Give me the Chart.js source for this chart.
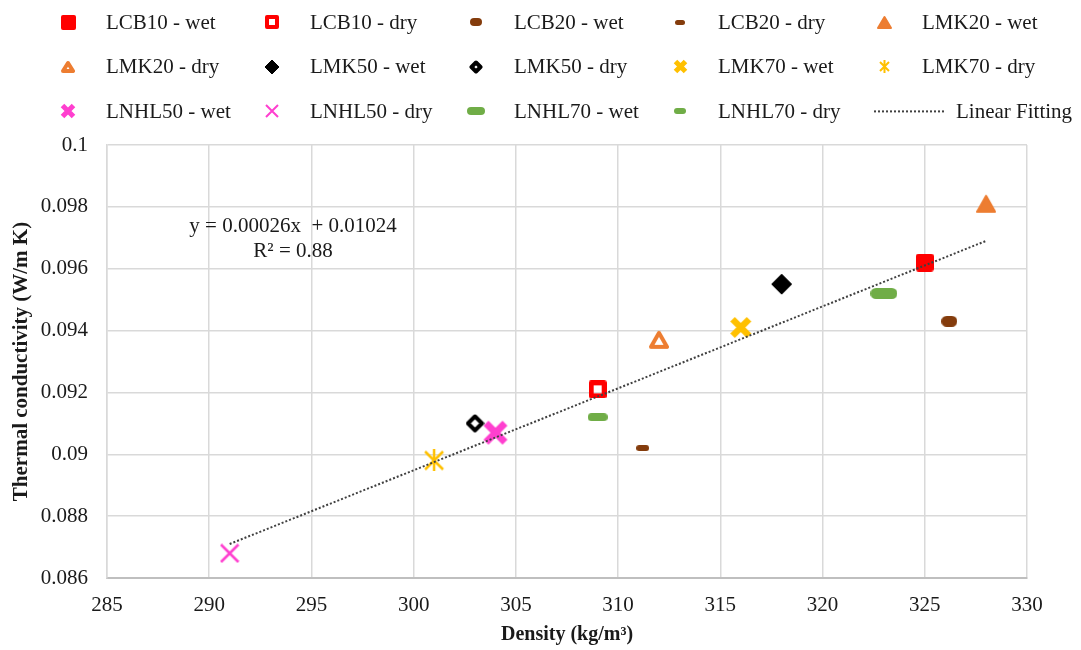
<!DOCTYPE html>
<html>
<head>
<meta charset="utf-8">
<script src="https://cdn.jsdelivr.net/npm/chart.js@4.4.0/dist/chart.umd.min.js"></script>
<style>
    html, body { margin: 0; padding: 0; background: #fff; }
    #wrap { width: 1081px; height: 650px; }
</style>
</head>
<body>
<div id="wrap"><canvas id="thermalChart" width="1081" height="650"></canvas></div>
<script>
// Dados
const seriesNames = ['LCB10 - wet', 'LCB10 - dry', 'LCB20 - wet', 'LCB20 - dry', 'LMK20 - wet',
    'LMK20 - dry', 'LMK50 - wet', 'LMK50 - dry', 'LMK70 - wet', 'LMK70 - dry',
    'LNHL50 - wet', 'LNHL50 - dry', 'LNHL70 - wet', 'LNHL70 - dry'];
const densityValues = [325, 309, 326.2, 311.2, 328, 312, 318, 303, 316, 301, 304, 291, 323, 309];
const conductivityValues = [0.0962, 0.0921, 0.0943, 0.0902, 0.0981, 0.0937, 0.0955, 0.0910,
    0.0941, 0.0898, 0.0907, 0.0868, 0.0952, 0.0912];
const fitLabel = 'Linear Fitting';
const fitDensity = [291, 328];
const fitConductivity = [0.0871, 0.0969];
const fitEquation = ['y = 0.00026x  + 0.01024', 'R² = 0.88'];
const equationAt = [294.1, 0.09735, 0.09657];
const xTickRange = [285, 330, 5];
const yTickRange = [0.086, 0.1, 0.002];

const RED = '#ff0000', BROWN = '#843c0c', ORANGE = '#ed7d31', BLACK = '#000000',
    GOLD = '#ffc000', PINK = '#ff3fcf', GREEN = '#70ad47';
const FONT = '"Liberation Serif", "Times New Roman", serif';
const TEXT = '#1a1a1a';

// Funções para desenhar os marcadores (estilo Excel)
function makeIcon(w, h, draw) {
    const c = document.createElement('canvas');
    c.width = w; c.height = h;
    const g = c.getContext('2d');
    draw(g, w, h);
    return c;
}

function pathRound(g, x, y, w, h, r) {
    g.beginPath();
    g.moveTo(x + r, y);
    g.arcTo(x + w, y, x + w, y + h, r);
    g.arcTo(x + w, y + h, x, y + h, r);
    g.arcTo(x, y + h, x, y, r);
    g.arcTo(x, y, x + w, y, r);
    g.closePath();
}

function filledBox(color, w, h, r) {
    return makeIcon(w, h, (g) => {
        g.fillStyle = color;
        pathRound(g, 0, 0, w, h, r);
        g.fill();
    });
}

function hollowBox(color, s, lw) {
    return makeIcon(s, s, (g) => {
        g.strokeStyle = color;
        g.lineWidth = lw;
        g.lineJoin = 'round';
        g.strokeRect(lw / 2, lw / 2, s - lw, s - lw);
    });
}

function triangle(color, s, filled) {
    return makeIcon(s, s, (g) => {
        const lw = filled ? 2 : 4;
        g.lineJoin = 'round';
        g.lineWidth = lw;
        g.strokeStyle = color;
        g.fillStyle = color;
        g.beginPath();
        g.moveTo(s / 2, lw / 2 + 1);
        g.lineTo(s - lw / 2, s - lw / 2 - 1);
        g.lineTo(lw / 2, s - lw / 2 - 1);
        g.closePath();
        if (filled) g.fill();
        g.stroke();
    });
}

function diamond(color, s, filled) {
    return makeIcon(s, s, (g) => {
        const lw = filled ? 1 : 4;
        const m = lw / 2 + 0.5;
        g.lineJoin = 'round';
        g.lineWidth = lw;
        g.strokeStyle = color;
        g.fillStyle = color;
        g.beginPath();
        g.moveTo(s / 2, m);
        g.lineTo(s - m, s / 2);
        g.lineTo(s / 2, s - m);
        g.lineTo(m, s / 2);
        g.closePath();
        if (filled) g.fill();
        g.stroke();
    });
}

function xMark(color, s, lw) {
    return makeIcon(s, s, (g) => {
        const m = lw / 2;
        g.strokeStyle = color;
        g.lineWidth = lw;
        g.beginPath();
        g.moveTo(m, m); g.lineTo(s - m, s - m);
        g.moveTo(s - m, m); g.lineTo(m, s - m);
        g.stroke();
    });
}

function asterisk(color, s, lw) {
    return makeIcon(s, s, (g) => {
        g.strokeStyle = color;
        g.lineWidth = lw;
        g.beginPath();
        g.moveTo(2, 2); g.lineTo(s - 2, s - 2);
        g.moveTo(s - 2, 2); g.lineTo(2, s - 2);
        g.moveTo(s / 2, 0); g.lineTo(s / 2, s);
        g.stroke();
    });
}

const markers = [
    filledBox(RED, 18, 18, 3),
    hollowBox(RED, 18, 5),
    filledBox(BROWN, 16, 11, 5.5),
    filledBox(BROWN, 13, 6, 3),
    triangle(ORANGE, 20, true),
    triangle(ORANGE, 20, false),
    diamond(BLACK, 22, true),
    diamond(BLACK, 19, false),
    xMark(GOLD, 23, 6.5),
    asterisk(GOLD, 22, 2.5),
    xMark(PINK, 26, 7),
    xMark(PINK, 20, 2.5),
    filledBox(GREEN, 27, 11, 5.5),
    filledBox(GREEN, 20, 8, 4)
];
const legendMarkers = [
    filledBox(RED, 15, 15, 2),
    hollowBox(RED, 14, 4),
    filledBox(BROWN, 12, 8, 4),
    filledBox(BROWN, 10, 5, 2.5),
    triangle(ORANGE, 15, true),
    triangle(ORANGE, 14, false),
    diamond(BLACK, 16, true),
    diamond(BLACK, 14, false),
    xMark(GOLD, 15, 5),
    asterisk(GOLD, 13, 2),
    xMark(PINK, 16, 5),
    xMark(PINK, 14, 2),
    filledBox(GREEN, 18, 8, 4),
    filledBox(GREEN, 12, 6, 3)
];

// Monta os datasets
const datasets = seriesNames.map((name, i) => ({
    label: name,
    data: [{ x: densityValues[i], y: conductivityValues[i] }],
    pointStyle: markers[i],
    pointRadius: 8,
    showLine: false,
    order: 1
}));
datasets.push({
    label: fitLabel,
    type: 'line',
    data: fitDensity.map((d, i) => ({ x: d, y: fitConductivity[i] })),
    borderColor: '#404040',
    borderWidth: 2,
    borderDash: [2, 2],
    pointRadius: 0,
    fill: false,
    order: -1
});

// Legenda em grade e equação da regressão
const overlayPlugin = {
    id: 'overlay',
    afterDraw(chart) {
        const g = chart.ctx;
        const xs = chart.scales.x, ys = chart.scales.y;
        g.save();
        g.font = '21px ' + FONT;
        g.fillStyle = TEXT;
        g.textAlign = 'center';
        g.textBaseline = 'middle';
        g.fillText(fitEquation[0], xs.getPixelForValue(equationAt[0]), ys.getPixelForValue(equationAt[1]));
        g.fillText(fitEquation[1], xs.getPixelForValue(equationAt[0]), ys.getPixelForValue(equationAt[2]));

        g.textAlign = 'left';
        chart.data.datasets.forEach((ds, i) => {
            const col = i % 5, row = Math.floor(i / 5);
            const cx = 68 + col * 204;
            const cy = 22 + row * 44.7;
            if (i < legendMarkers.length) {
                const m = legendMarkers[i];
                g.drawImage(m, Math.round(cx - m.width / 2), Math.round(cy - m.height / 2));
                g.fillText(ds.label, cx + 38, cy + 1);
            } else {
                g.strokeStyle = '#404040';
                g.lineWidth = 2;
                g.setLineDash([2, 2]);
                g.beginPath();
                g.moveTo(cx - 10, cy);
                g.lineTo(cx + 62, cy);
                g.stroke();
                g.setLineDash([]);
                g.fillText(ds.label, cx + 72, cy + 1);
            }
        });
        g.restore();
    }
};

const ctx = document.getElementById('thermalChart').getContext('2d');
const thermalChart = new Chart(ctx, {
    type: 'scatter',
    data: { datasets: datasets },
    plugins: [overlayPlugin],
    options: {
        responsive: false,
        animation: false,
        devicePixelRatio: 1,
        layout: { padding: { top: 145, right: 54, left: 0, bottom: 0 } },
        plugins: {
            legend: { display: false },
            tooltip: { enabled: false }
        },
        scales: {
            x: {
                type: 'linear',
                min: xTickRange[0],
                max: xTickRange[1],
                afterFit: (scale) => { scale.height = 72; },
                ticks: {
                    stepSize: xTickRange[2],
                    padding: 15,
                    color: TEXT,
                    font: { family: FONT, size: 21 }
                },
                grid: { color: '#d9d9d9', lineWidth: 1.5, drawTicks: false },
                border: { color: '#bfbfbf', width: 2 },
                title: {
                    display: true,
                    text: 'Density (kg/m³)',
                    color: TEXT,
                    font: { family: FONT, size: 20, weight: 'bold' },
                    padding: { top: 0, bottom: 3 }
                }
            },
            y: {
                type: 'linear',
                min: yTickRange[0],
                max: yTickRange[1],
                afterFit: (scale) => { scale.width = 107; },
                ticks: {
                    stepSize: yTickRange[2],
                    padding: 19,
                    color: TEXT,
                    font: { family: FONT, size: 21 },
                    callback: (v) => String(Number(v.toFixed(3)))
                },
                grid: { color: '#d9d9d9', lineWidth: 1.5, drawTicks: false },
                border: { color: '#d9d9d9', width: 1.5 },
                title: {
                    display: true,
                    text: 'Thermal conductivity (W/m K)',
                    color: TEXT,
                    font: { family: FONT, size: 21, weight: 'bold' },
                    padding: { top: 9, bottom: 0 }
                }
            }
        }
    }
});
</script>
</body>
</html>
